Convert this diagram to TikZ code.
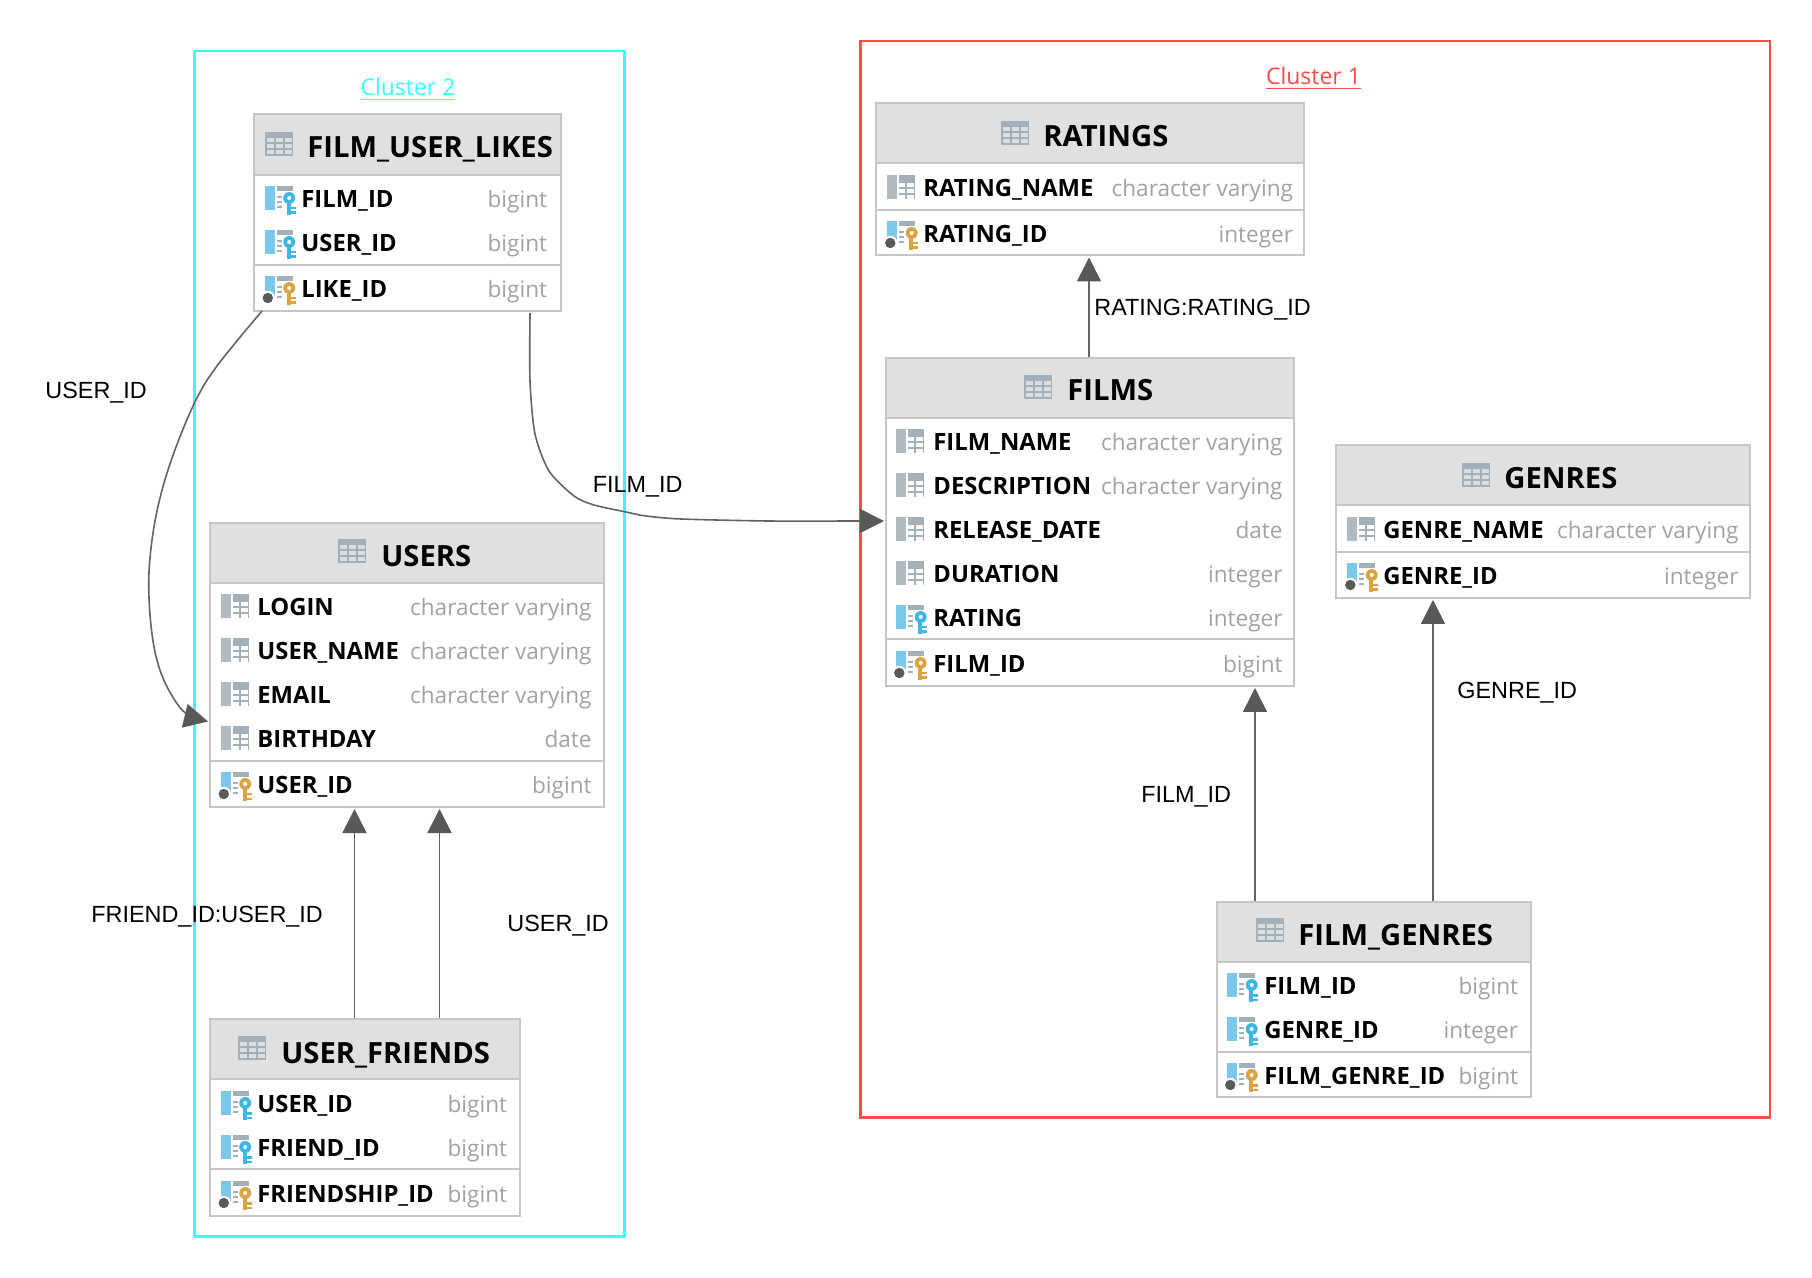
\documentclass[tikz,border=0pt]{standalone}
\usepackage{fontspec}
\setmainfont{Open Sans}
\newfontfamily\linkfont{Liberation Sans}
\usetikzlibrary{arrows.meta}
\usetikzlibrary{fit}
\definecolor{clusterred}{HTML}{FF4B4B}
\definecolor{clustercyan}{HTML}{38FFFF}
\definecolor{tableline}{HTML}{C6C6C6}
\definecolor{tablehead}{HTML}{E0E0E0}
\definecolor{typegray}{HTML}{A2A2A2}
\definecolor{linkgray}{HTML}{636363}
\definecolor{headgray}{HTML}{595959}
\definecolor{slate}{HTML}{A3B0BA}
\definecolor{slatepale}{HTML}{B0BAC1}
\definecolor{cellgray}{HTML}{D9DEE1}
\definecolor{barblue}{HTML}{7AC9EA}
\definecolor{keyblue}{HTML}{3FB6E3}
\definecolor{keygold}{HTML}{D9A441}
\definecolor{dotgray}{HTML}{5A5A5A}
\tikzset{
	clusterbox/.style={draw,line width=1.2pt,inner sep=0pt},
	clustername/.style={anchor=base,font=\fontsize{11.5}{14}\selectfont},
	tablebox/.style={draw=tableline,fill=white,line width=1pt,inner sep=0pt},
	tabletop/.style={draw=tableline,fill=tablehead,line width=1pt,inner sep=0pt},
	tablerule/.style={draw=tableline,line width=1pt},
	tabletitle/.style={anchor=base west,inner sep=0pt,font=\bfseries\fontsize{14.6}{16}\selectfont},
	colname/.style={anchor=base west,inner sep=0pt,font=\bfseries\fontsize{11.9}{13}\selectfont},
	coltype/.style={anchor=base east,inner sep=0pt,text=typegray,font=\fontsize{11.3}{13}\selectfont},
	linklabel/.style={anchor=base west,inner sep=0pt,font=\linkfont\fontsize{11.7}{14}\selectfont},
	link/.style={draw=linkgray,line width=.8pt,-{Triangle[length=12pt,width=12pt,color=headgray]},shorten >=.5pt},
	tableicon/.pic={
		\fill[slate] (0,0) rectangle (28,24);
		\foreach \cellx in {2,11,20}
			\foreach \celly in {6,12,18}
				\fill[cellgray] (\cellx,\celly) rectangle ++(7,4);
	},
	colicon/.pic={
		\fill[slatepale] (0,-13) rectangle (10,11);
		\fill[slate] (12,-13) rectangle (28,11);
		\foreach \cellx/\cellw in {12/6,20/7}
			\foreach \celly in {-5,1,7}
				\fill[white] (\cellx,\celly) rectangle ++(\cellw,4);
	},
	fieldmark/.pic={
		\fill[barblue] (0,-13) rectangle (10,11);
		\fill[slate] (12,-13) rectangle (28,-8);
		\foreach \celly in {-3,2,7}
			\fill[slate] (12,\celly) rectangle ++(5,2);
	},
	keymark/.pic={
		\fill[#1] (24.7,-1) circle (3pt);
		\fill[#1] (22,3) rectangle (26,16);
		\fill[#1] (26,8) rectangle (31,10.5);
		\fill[#1] (26,12.5) rectangle (31,15);
		\fill[white] (24.7,-1) circle (1pt);
	},
	fkicon/.pic={
		\pic {fieldmark};
		\pic {keymark=keyblue};
	},
	pkicon/.pic={
		\pic {fieldmark};
		\fill[white] (3.3,9) circle (3.6pt);
		\fill[dotgray] (3.3,9) circle (2.6pt);
		\pic {keymark=keygold};
	},
}
% prefix, icon x, name x, type right x, rows
\newcommand{\tablerows}[5]{
	\foreach \rowtag/\rowkind/\rowname/\rowtype/\rowy in {#5} {
		\pic at (#2,\rowy) {\rowkind};
		\node[colname] (#1 \rowtag) at (#3,\rowy+8.5) {\rowname};
		\node[coltype] (#1 \rowtag type) at (#4,\rowy+8.5) {\rowtype};
	}
}
\begin{document}
\begin{tikzpicture}[x=.5pt,y=-.5pt,xshift=.5pt,yshift=-.5pt]
	\useasboundingbox (-1,-1) rectangle (1811,1277);
	% clusters
	\node[clusterbox,draw=clustercyan,fit={(193.5,50) (623.5,1235.5)}] (cluster two) {};
	\node[clusterbox,draw=clusterred,fit={(859.5,40) (1769,1116.5)}] (cluster one) {};
	\node[clustername,text=clustercyan] (cluster two name) at (407,95) {\underline{Cluster 2}};
	\node[clustername,text=clusterred] (cluster one name) at (1312.5,84) {\underline{Cluster 1}};

	% FILM_USER_LIKES
	\node[tablebox,fit={(252.5,113) (559.5,310)}] (likes) {};
	\node[tabletop,fit={(252.5,113) (559.5,174)}] (likes top) {};
	\draw[tablerule] (likes.west |- 0,264) -- (likes.east |- 0,264);
	\pic at (263.5,131) {tableicon};
	\node[tabletitle] (likes title) at (306,157) {FILM\_USER\_LIKES};
	\tablerows{likes}{263.5}{300}{546.5}{film/fkicon/FILM\_ID/bigint/198,user/fkicon/USER\_ID/bigint/242,like/pkicon/LIKE\_ID/bigint/288}

	% USERS
	\node[tablebox,fit={(209,522) (603,806)}] (users) {};
	\node[tabletop,fit={(209,522) (603,582)}] (users top) {};
	\draw[tablerule] (users.west |- 0,760) -- (users.east |- 0,760);
	\pic at (337,538) {tableicon};
	\node[tabletitle] (users title) at (380,566) {USERS};
	\tablerows{users}{219.5}{256}{591}{login/colicon/LOGIN/character varying/606,name/colicon/USER\_NAME/character varying/650,email/colicon/EMAIL/character varying/694,birthday/colicon/BIRTHDAY/date/738,user/pkicon/USER\_ID/bigint/784}

	% USER_FRIENDS
	\node[tablebox,fit={(209,1018) (519,1215)}] (friends) {};
	\node[tabletop,fit={(209,1018) (519,1078)}] (friends top) {};
	\draw[tablerule] (friends.west |- 0,1168) -- (friends.east |- 0,1168);
	\pic at (237,1035) {tableicon};
	\node[tabletitle] (friends title) at (280,1062) {USER\_FRIENDS};
	\tablerows{friends}{219.5}{256}{506.5}{user/fkicon/USER\_ID/bigint/1103,friend/fkicon/FRIEND\_ID/bigint/1147,friendship/pkicon/FRIENDSHIP\_ID/bigint/1193}

	% RATINGS
	\node[tablebox,fit={(875,102.5) (1303,254.5)}] (ratings) {};
	\node[tabletop,fit={(875,102.5) (1303,162.5)}] (ratings top) {};
	\draw[tablerule] (ratings.west |- 0,209) -- (ratings.east |- 0,209);
	\pic at (1000,120) {tableicon};
	\node[tabletitle] (ratings title) at (1042,146) {RATINGS};
	\tablerows{ratings}{886}{922}{1292.5}{name/colicon/RATING\_NAME/character varying/187,rating/pkicon/RATING\_ID/integer/233}

	% FILMS
	\node[tablebox,fit={(885,357) (1292.5,685)}] (films) {};
	\node[tabletop,fit={(885,357) (1292.5,417)}] (films top) {};
	\draw[tablerule] (films.west |- 0,638.5) -- (films.east |- 0,638.5);
	\pic at (1023,374) {tableicon};
	\node[tabletitle] (films title) at (1066,400) {FILMS};
	\tablerows{films}{895}{932}{1282}{name/colicon/FILM\_NAME/character varying/441,description/colicon/DESCRIPTION/character varying/485,release/colicon/RELEASE\_DATE/date/529,duration/colicon/DURATION/integer/573,rating/fkicon/RATING/integer/617,film/pkicon/FILM\_ID/bigint/663}

	% GENRES
	\node[tablebox,fit={(1335,444.5) (1749,597)}] (genres) {};
	\node[tabletop,fit={(1335,444.5) (1749,504.5)}] (genres top) {};
	\draw[tablerule] (genres.west |- 0,551) -- (genres.east |- 0,551);
	\pic at (1461,462) {tableicon};
	\node[tabletitle] (genres title) at (1503,488) {GENRES};
	\tablerows{genres}{1346}{1382}{1738}{name/colicon/GENRE\_NAME/character varying/529,genre/pkicon/GENRE\_ID/integer/575}

	% FILM_GENRES
	\node[tablebox,fit={(1216,900.5) (1530,1096)}] (filmgenres) {};
	\node[tabletop,fit={(1216,900.5) (1530,960.5)}] (filmgenres top) {};
	\draw[tablerule] (filmgenres.west |- 0,1051) -- (filmgenres.east |- 0,1051);
	\pic at (1255,917) {tableicon};
	\node[tabletitle] (filmgenres title) at (1297,944) {FILM\_GENRES};
	\tablerows{filmgenres}{1226}{1263}{1517.5}{film/fkicon/FILM\_ID/bigint/985,genre/fkicon/GENRE\_ID/integer/1029,filmgenre/pkicon/FILM\_GENRE\_ID/bigint/1075}

	% connectors
	\coordinate (friend a) at (353.5,0);
	\coordinate (friend b) at (438.5,0);
	\coordinate (rating a) at (1088,0);
	\coordinate (film a) at (1254,0);
	\coordinate (genre a) at (1432,0);
	\draw[link] (friends.north -| friend a) -- (users.south -| friend a);
	\draw[link] (friends.north -| friend b) -- (users.south -| friend b);
	\draw[link] (films.north -| rating a) -- (ratings.south -| rating a);
	\draw[link] (filmgenres.north -| film a) -- (films.south -| film a);
	\draw[link] (filmgenres.north -| genre a) -- (genres.south -| genre a);

	\coordinate (likes a) at (261,310);
	\coordinate (likes b) at (529,312);
	\coordinate (users in) at (208,720.7);
	\coordinate (films in) at (884,520);
	\draw[link] plot[smooth,tension=.6] coordinates {(likes a) (216,365) (193,403) (170,460) (156,510) (149,557) (148,597) (152,640) (160,672) (173,698) (186,713) (users in)};
	\draw[link] plot[smooth,tension=.45] coordinates {(likes b) (529,380) (534,433) (548,470) (573,495) (593,504) (625,511) (645,515) (680,518) (767,520) (860,520) (films in)};

	% connector labels
	\node[linklabel] (label likes user) at (44,398) {USER\_ID};
	\node[linklabel] (label likes film) at (591.5,492) {FILM\_ID};
	\node[linklabel] (label friend) at (90,921.5) {FRIEND\_ID:USER\_ID};
	\node[linklabel] (label user) at (506,930) {USER\_ID};
	\node[linklabel] (label rating) at (1093,315) {RATING:RATING\_ID};
	\node[linklabel] (label genre) at (1456,697) {GENRE\_ID};
	\node[linklabel] (label film) at (1140,801) {FILM\_ID};
\end{tikzpicture}
\end{document}
